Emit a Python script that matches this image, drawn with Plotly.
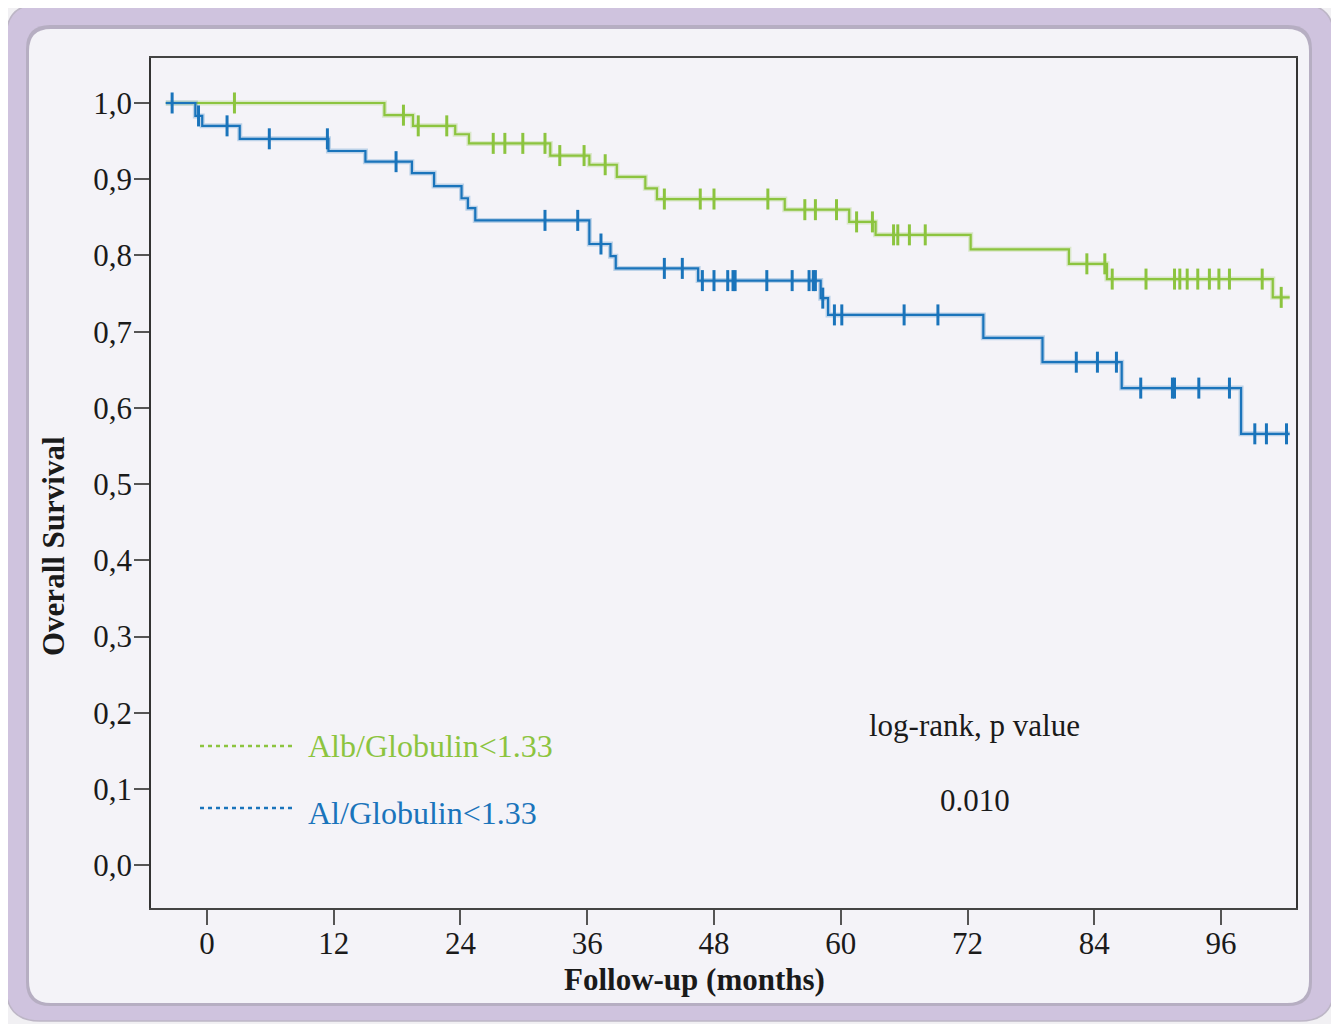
import numpy as np
import plotly.graph_objects as go

# ---------------- data ----------------
x_ticks = [0, 12, 24, 36, 48, 60, 72, 84, 96]
y_tick_vals = [0.0, 0.1, 0.2, 0.3, 0.4, 0.5, 0.6, 0.7, 0.8, 0.9, 1.0]
y_tick_text = ["0,0", "0,1", "0,2", "0,3", "0,4", "0,5", "0,6", "0,7", "0,8", "0,9", "1,0"]

start_time = -3.9
end_time = 102.5

green_name = "Alb/Globulin<1.33"
green_drop_t = [16.8, 19.5, 23.5, 24.8, 32.5, 36.2, 38.8, 41.5, 42.6, 54.7, 60.8,
                63.3, 72.3, 81.6, 85.2, 100.9]
green_surv = [0.984, 0.970, 0.959, 0.947, 0.931, 0.919, 0.903, 0.888, 0.874, 0.860,
              0.844, 0.827, 0.808, 0.789, 0.769, 0.745]
green_cens = [2.6, 18.6, 20.0, 22.7, 27.1, 28.2, 29.9, 32.0, 33.4, 35.7, 37.7, 43.3,
              46.7, 48.0, 53.1, 56.6, 57.6, 59.6, 61.5, 63.0, 65.0, 65.4, 66.5, 68.0,
              83.3, 85.0, 85.7, 88.9, 91.6, 92.1, 92.8, 93.8, 94.9, 95.8, 96.8, 99.9,
              101.7]

blue_name = "Al/Globulin<1.33"
blue_drop_t = [-1.1, -0.45, 3.1, 11.5, 15.0, 19.4, 21.5, 24.1, 24.7, 25.4, 36.2, 38.2,
               38.7, 46.5, 58.1, 58.8, 73.5, 79.1, 86.6, 97.9]
blue_surv = [0.983, 0.970, 0.953, 0.937, 0.923, 0.908, 0.891, 0.875, 0.862, 0.846,
             0.815, 0.799, 0.783, 0.767, 0.744, 0.722, 0.692, 0.660, 0.626, 0.566]
blue_cens = [-3.3, -0.8, 1.9, 5.9, 11.4, 17.9, 32.0, 35.1, 37.3, 43.3, 45.0, 46.9,
             48.0, 49.3, 49.8, 50.0, 53.0, 55.4, 57.0, 57.4, 57.6, 58.3, 59.4, 60.1,
             66.0, 69.2, 82.3, 84.3, 86.1, 88.4, 91.4, 91.6, 93.9, 96.8, 99.2, 100.3,
             102.2]

x_title = "<b>Follow-up (months)</b>"
y_title = "<b>Overall Survival</b>"
p_title = "log-rank, p value"
p_value = "0.010"

GREEN = "#8cc43f"
BLUE = "#1a74bb"
TXT = "#1a1a1a"
FONT = "Liberation Serif"

# ---------------- geometry helpers (layout only) ----------------
OFF = 8  # the page's body margin shifts the figure by 8 px
W, H = 1339 - OFF, 1024 - OFF
L, R, T, B = 151 - OFF, 1296 - OFF, 58 - OFF, 908 - OFF


def px(xp):
    return (xp - OFF - L) / (R - L)


def py(yp):
    return (B - (yp - OFF)) / (B - T)


def rrect(x0, y0, x1, y1, r):
    X0, X1 = px(x0), px(x1)
    Y0, Y1 = py(y0), py(y1)
    rx = r / (R - L)
    ry = r / (B - T)
    return (f"M{X0 + rx},{Y0} L{X1 - rx},{Y0} Q{X1},{Y0} {X1},{Y0 - ry} "
            f"L{X1},{Y1 + ry} Q{X1},{Y1} {X1 - rx},{Y1} L{X0 + rx},{Y1} "
            f"Q{X0},{Y1} {X0},{Y1 + ry} L{X0},{Y0 - ry} Q{X0},{Y0} {X0 + rx},{Y0} Z")


def step_xy(drop_t, surv):
    xs = [start_time] + list(drop_t) + [end_time]
    ys = [1.0] + list(surv) + [surv[-1]]
    return xs, ys


def surv_at(t, drop_t, surv):
    idx = np.searchsorted(np.array(drop_t), t, side="right")
    levels = np.concatenate([[1.0], surv])
    return levels[idx]


fig = go.Figure()

for name, dt, sv, cens, col in [(green_name, green_drop_t, green_surv, green_cens, GREEN),
                                (blue_name, blue_drop_t, blue_surv, blue_cens, BLUE)]:
    xs, ys = step_xy(dt, sv)
    fig.add_trace(go.Scatter(x=xs, y=ys, mode="lines", line=dict(color=col, width=5, shape="hv"),
                             opacity=0.25, showlegend=False, hoverinfo="skip"))
    fig.add_trace(go.Scatter(x=xs, y=ys, mode="lines", line=dict(color=col, width=2.2, shape="hv"),
                             name=name, showlegend=False))
    cy = [surv_at(t, dt, sv) for t in cens]
    fig.add_trace(go.Scatter(x=cens, y=cy, mode="markers",
                             marker=dict(symbol="line-ns", size=15,
                                         line=dict(color=col, width=3)),
                             showlegend=False, name=name + " censored"))

shapes = [
    dict(type="path", xref="paper", yref="paper", path=rrect(6, 4, 1334, 1021, 34),
         fillcolor="#cfc3de", line=dict(color="#bdb6c6", width=1.5), layer="below"),
    dict(type="path", xref="paper", yref="paper", path=rrect(26, 25, 1312, 1006, 24),
         fillcolor="#a39cab", line=dict(width=0), layer="below", opacity=0.55),
    dict(type="path", xref="paper", yref="paper", path=rrect(29, 29, 1309, 1003, 22),
         fillcolor="#f4f3f8", line=dict(width=0), layer="below"),
    # legend sample lines
    dict(type="line", xref="paper", yref="paper", x0=px(200), x1=px(292), y0=py(746), y1=py(746),
         line=dict(color=GREEN, width=2.5, dash="4px,4px")),
    dict(type="line", xref="paper", yref="paper", x0=px(200), x1=px(292), y0=py(808), y1=py(808),
         line=dict(color=BLUE, width=2.5, dash="4px,4px")),
]

annotations = [
    dict(xref="paper", yref="paper", x=px(306), y=py(746), text=green_name, showarrow=False,
         xanchor="left", yanchor="middle", font=dict(family=FONT, size=32, color=GREEN)),
    dict(xref="paper", yref="paper", x=px(306), y=py(813), text=blue_name, showarrow=False,
         xanchor="left", yanchor="middle", font=dict(family=FONT, size=32, color=BLUE)),
    dict(xref="paper", yref="paper", x=px(975), y=py(725), text=p_title, showarrow=False,
         xanchor="center", yanchor="middle", font=dict(family=FONT, size=31, color=TXT)),
    dict(xref="paper", yref="paper", x=px(975), y=py(800), text=p_value, showarrow=False,
         xanchor="center", yanchor="middle", font=dict(family=FONT, size=31, color=TXT)),
    dict(xref="paper", yref="paper", x=px(694), y=py(979), text=x_title, showarrow=False,
         xanchor="center", yanchor="middle", font=dict(family=FONT, size=31, color=TXT)),
    dict(xref="paper", yref="paper", x=px(53), y=py(546), text=y_title, showarrow=False,
         textangle=-90, xanchor="center", yanchor="middle",
         font=dict(family=FONT, size=31, color=TXT)),
]

fig.update_layout(
    width=W, height=H,
    margin=dict(l=L, r=W - R, t=T, b=H - B, pad=0),
    paper_bgcolor="#f1f0f3",
    plot_bgcolor="#f4f3f8",
    shapes=shapes,
    annotations=annotations,
    font=dict(family=FONT, size=31, color=TXT),
    xaxis=dict(range=[-5.3, 103.1], tickvals=x_ticks, ticktext=[str(v) for v in x_ticks],
               ticks="outside", ticklen=15, tickwidth=1.5, tickcolor="#555555",
               ticklabelstandoff=-8,
               showgrid=False, zeroline=False, showline=True, linecolor="#444444",
               linewidth=2, mirror=True,
               tickfont=dict(family=FONT, size=31, color=TXT)),
    yaxis=dict(range=[-0.056, 1.059], tickvals=y_tick_vals, ticktext=y_tick_text,
               ticks="outside", ticklen=15, tickwidth=1.5, tickcolor="#555555",
               ticklabelstandoff=-4,
               showgrid=False, zeroline=False, showline=True, linecolor="#333333",
               linewidth=1.5, mirror=True,
               tickfont=dict(family=FONT, size=31, color=TXT)),
)

fig.write_html("out.html")
